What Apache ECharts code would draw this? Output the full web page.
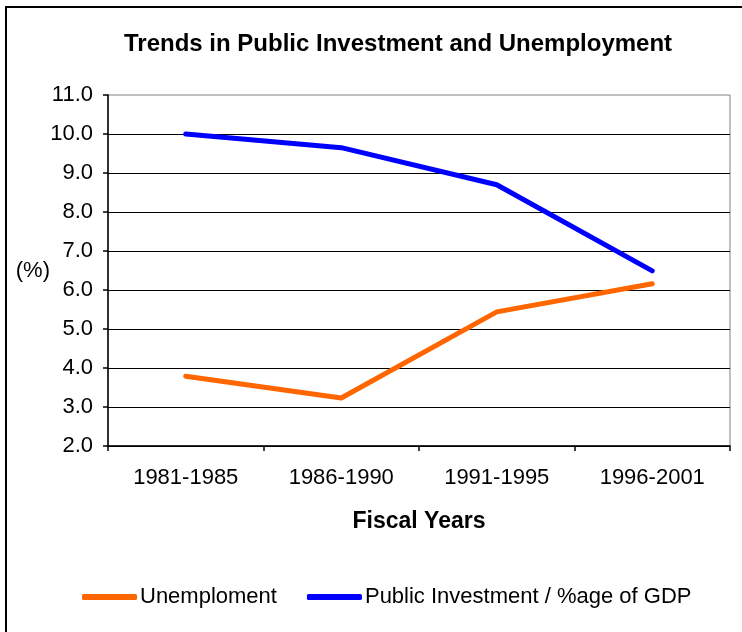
<!DOCTYPE html>
<html>
<head>
<meta charset="utf-8">
<script src="https://cdn.jsdelivr.net/npm/echarts@6/dist/echarts.min.js"></script>
<style>
  html, body { margin: 0; padding: 0; background: #fff; }
  #chart { width: 742px; height: 632px; }
</style>
</head>
<body>
<div id="chart"></div>
<script>
// Fiscal-year periods on the category axis
const periods = ['1981-1985', '1986-1990', '1991-1995', '1996-2001'];
// Unemployment rate (%)
const unemployment = [3.79, 3.23, 5.44, 6.16];
// Public investment as a share of GDP (%)
const publicInvestment = [10.0, 9.65, 8.70, 6.49];

const FONT = '"Liberation Sans", Arial, sans-serif';

const chart = echarts.init(document.getElementById('chart'), null, { renderer: 'canvas' });

chart.setOption({
  backgroundColor: '#ffffff',
  animation: false,
  textStyle: { fontFamily: FONT, color: '#000' },
  title: {
    text: 'Trends in Public Investment and Unemployment',
    left: 124,
    top: 32,
    padding: 0,
    textStyle: { fontFamily: FONT, fontSize: 24, fontWeight: 'bold', color: '#000' }
  },
  graphic: [{
    type: 'rect',
    shape: { x: 6, y: 7, width: 800, height: 700 },
    style: { fill: 'none', stroke: '#000', lineWidth: 2 },
    silent: true
  }],
  legend: {
    left: 82,
    top: 586,
    padding: 0,
    itemGap: 30,
    itemWidth: 55,
    itemHeight: 6,
    icon: 'roundRect',
    textStyle: { fontFamily: FONT, fontSize: 22, color: '#000', padding: [0, 0, 0, -2] },
    data: ['Unemploment', 'Public Investment / %age of GDP']
  },
  grid: {
    left: 108,
    right: 12,
    top: 95,
    height: 351,
    show: true,
    borderColor: '#808080',
    borderWidth: 1,
    containLabel: false
  },
  xAxis: {
    type: 'category',
    data: periods,
    boundaryGap: true,
    name: 'Fiscal Years',
    nameLocation: 'middle',
    nameGap: 64,
    nameTextStyle: { fontFamily: FONT, fontSize: 23, fontWeight: 'bold', color: '#000' },
    axisLine: { show: true, lineStyle: { color: '#000', width: 1.5 } },
    axisTick: { show: true, length: 5, lineStyle: { color: '#000', width: 1.5 } },
    axisLabel: { fontFamily: FONT, fontSize: 22, color: '#000', margin: 21 },
    splitLine: { show: false }
  },
  yAxis: {
    type: 'value',
    min: 2,
    max: 11,
    interval: 1,
    name: '(%)',
    nameLocation: 'middle',
    nameRotate: 0,
    nameGap: 58,
    nameMoveOverlap: false,
    nameTextStyle: { fontFamily: FONT, fontSize: 22, color: '#000', lineHeight: 22, padding: [0, 0, 6, 0] },
    axisLine: { show: true, lineStyle: { color: '#000', width: 1.5 } },
    axisTick: { show: true, length: 5, lineStyle: { color: '#000', width: 1.5 } },
    axisLabel: {
      fontFamily: FONT, fontSize: 22, color: '#000', margin: 15,
      formatter: v => v.toFixed(1)
    },
    splitLine: {
      show: true,
      showMaxLine: false,
      lineStyle: { color: '#000', width: 1 }
    }
  },
  series: [
    {
      name: 'Unemploment',
      type: 'line',
      data: unemployment,
      showSymbol: false,
      symbol: 'none',
      color: '#FF6600',
      lineStyle: { color: '#FF6600', width: 5, cap: 'round', join: 'round' },
      itemStyle: { color: '#FF6600' }
    },
    {
      name: 'Public Investment / %age of GDP',
      type: 'line',
      data: publicInvestment,
      showSymbol: false,
      symbol: 'none',
      color: '#0000FF',
      lineStyle: { color: '#0000FF', width: 5, cap: 'round', join: 'round' },
      itemStyle: { color: '#0000FF' }
    }
  ]
});
</script>
</body>
</html>
